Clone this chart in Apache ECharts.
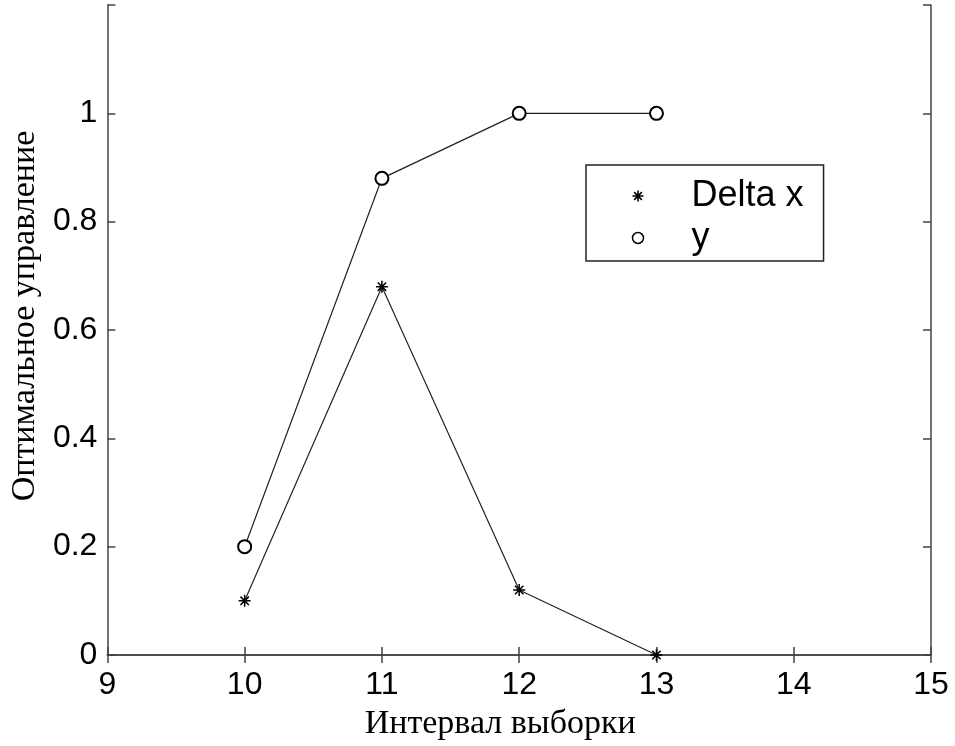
<!DOCTYPE html>
<html><head><meta charset="utf-8">
<script src="https://cdn.jsdelivr.net/npm/echarts@6/dist/echarts.min.js"></script>
<style>html,body{margin:0;padding:0;background:#fff}#c{width:955px;height:746px}</style>
</head><body><div id="c"></div>
<script>
var xValues = [10, 11, 12, 13];
var deltaX = [0.1, 0.68, 0.12, 0];
var yVals = [0.2, 0.88, 1, 1];
var seriesNames = ['Delta x', 'y'];
var xTitle = 'Интервал выборки';
var yTitle = 'Оптимальное управление';

var star = 'path://M0,-10 L0,10 M-10,0 L10,0 M-7,-7 L7,7 M-7,7 L7,-7';
function pairs(ys){ return xValues.map(function(x,i){return [x, ys[i]];}); }
var axisCol = '#444';
var tickFont = {fontFamily:'Liberation Sans, Arial, sans-serif', fontSize:32, color:'#000'};
var chart = echarts.init(document.getElementById('c'));
chart.setOption({
  animation:false,
  grid:{left:107, right:24, top:5, bottom:91},
  legend:{
    orient:'vertical', left:586, top:165,
    data:[
      {name:seriesNames[0], icon:star, itemStyle:{color:'none', borderColor:'#000', borderWidth:1.6}},
      {name:seriesNames[1], icon:'circle', itemStyle:{color:'#fff', borderColor:'#000', borderWidth:1.5}}
    ],
    itemWidth:11, itemHeight:11, itemGap:6,
    padding:[13, 20, 5, 44],
    borderColor:'#222', borderWidth:1.5, borderRadius:0,
    backgroundColor:'#fff',
    textStyle:{fontFamily:'Liberation Sans, Arial, sans-serif', fontSize:36, color:'#000', padding:[0,0,0,43], lineHeight:34}
  },
  xAxis:[{
    type:'value', min:9, max:15, interval:1, position:'bottom',
    name:xTitle, nameLocation:'middle', nameGap:52,
    nameTextStyle:{fontFamily:'Liberation Serif, Times New Roman, serif', fontSize:34, color:'#000', padding:[0,38,0,0]},
    axisLine:{lineStyle:{color:axisCol, width:1.5}},
    axisTick:{inside:true, length:8, lineStyle:{color:axisCol, width:1.5}},
    axisLabel:Object.assign({margin:14}, tickFont),
    splitLine:{show:false}
  },{
    type:'value', min:9, max:15, interval:1, position:'top',
    axisLine:{lineStyle:{color:axisCol, width:1.5}},
    axisTick:{inside:true, length:8, lineStyle:{color:axisCol, width:1.5}},
    axisLabel:{show:false}, splitLine:{show:false}
  }],
  yAxis:[{
    type:'value', min:0, max:1.2, interval:0.2, position:'left',
    name:yTitle, nameLocation:'middle', nameGap:64,
    nameTextStyle:{fontFamily:'Liberation Serif, Times New Roman, serif', fontSize:34, color:'#000', padding:[0,0,0,28]},
    axisLine:{lineStyle:{color:axisCol, width:1.5}},
    axisTick:{inside:true, length:8, lineStyle:{color:axisCol, width:1.5}},
    axisLabel:Object.assign({margin:10, formatter:function(v){return v>1.01?'':String(+v.toFixed(1));}}, tickFont),
    splitLine:{show:false}
  },{
    type:'value', min:0, max:1.2, interval:0.2, position:'right',
    axisLine:{lineStyle:{color:axisCol, width:1.5}},
    axisTick:{inside:true, length:8, lineStyle:{color:axisCol, width:1.5}},
    axisLabel:{show:false}, splitLine:{show:false}
  }],
  series:[{
    name:seriesNames[0], type:'line', data:pairs(deltaX),
    symbol:star, symbolSize:12,
    lineStyle:{color:'#222', width:1.2},
    itemStyle:{color:'#000', borderColor:'#000', borderWidth:1.5},
    z:3
  },{
    name:seriesNames[1], type:'line', data:pairs(yVals),
    symbol:'emptyCircle', symbolSize:13,
    lineStyle:{color:'#222', width:1.2},
    itemStyle:{color:'#000', borderColor:'#000', borderWidth:1.5},
    z:3
  }]
});
</script></body></html>
